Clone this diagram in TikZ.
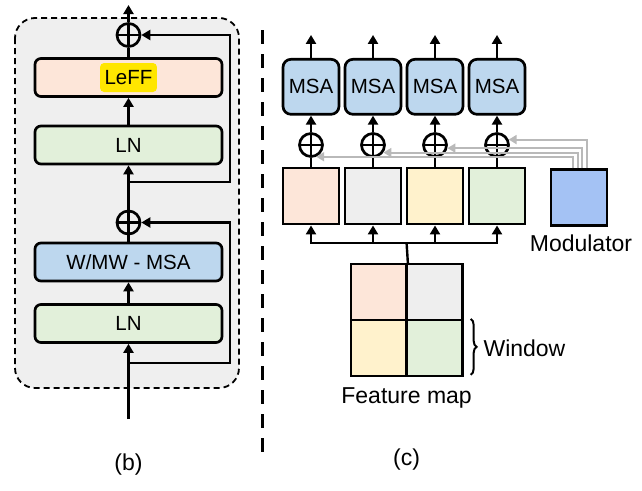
\documentclass[tikz,border=0pt]{standalone}
\usepackage{fontspec}
\setmainfont{Liberation Sans}
\usetikzlibrary{arrows.meta,positioning,decorations.pathreplacing}

\definecolor{rosado}{RGB}{253,230,217}
\definecolor{verdeln}{RGB}{226,240,218}
\definecolor{azulmsa}{RGB}{189,215,238}
\definecolor{grisclaro}{RGB}{238,238,238}
\definecolor{amarillo}{RGB}{255,242,204}
\definecolor{azulmod}{RGB}{164,194,244}
\definecolor{fondo}{RGB}{239,239,239}
\definecolor{resalte}{RGB}{255,230,0}
\definecolor{grislinea}{RGB}{185,185,185}

\begin{document}
\begin{tikzpicture}[x=1pt,y=-1pt,
    caja/.style={draw,line width=2.7pt,rounded corners=6pt,minimum width=187pt,
        minimum height=38pt,inner sep=0pt,font=\fontsize{20.5}{24}\selectfont},
    msabox/.style={draw,line width=2.7pt,rounded corners=8pt,fill=azulmsa,
        minimum width=56pt,minimum height=55pt,inner sep=0pt,font=\fontsize{20.5}{24}\selectfont},
    parche/.style={draw,line width=2.5pt,minimum size=56pt,inner sep=0pt},
    suma/.style={draw,circle,line width=2.7pt,minimum size=23pt,inner sep=0pt,
        path picture={\draw[line width=2.4pt]
            (path picture bounding box.north) -- (path picture bounding box.south)
            (path picture bounding box.west) -- (path picture bounding box.east);}},
    flecha/.style={line width=2.4pt,-{Triangle[length=9pt,width=10pt]}},
    linea/.style={line width=2.4pt},
    gris/.style={line width=2pt,draw=grislinea,-{Triangle[length=8pt,width=9pt]}},
    etiqueta/.style={font=\fontsize{23}{27}\selectfont}]
    \useasboundingbox (0,0) rectangle (642,490);

    % (b) bloque transformer
    \draw[dash pattern=on 6pt off 4pt,line width=1.8pt,fill=fondo,rounded corners=20pt]
        (15,18) rectangle (239,388);
    \node[caja,fill=rosado] (leff) at (128.5,77.5) {};
    \node[fill=resalte,rounded corners=4pt,inner xsep=4.5pt,inner ysep=0pt,
        minimum height=29pt,font=\fontsize{20.5}{24}\selectfont] (leffl) at (leff.center) {LeFF};
    \node[caja,fill=verdeln] (ln2) at (128.5,145) {LN};
    \node[caja,fill=azulmsa] (wmsa) at (128.5,262) {W/MW - MSA};
    \node[caja,fill=verdeln] (ln1) at (128.5,323.5) {LN};
    \node[suma] (add2) at (128.5,35) {};
    \node[suma] (add1) at (128.5,222.5) {};

    \coordinate (entrada) at (128.5,419);
    \coordinate (salida) at (128.5,5);
    \coordinate (r1) at (128.5,362.7);
    \coordinate (c1) at (230,362.7);
    \coordinate (r2) at (128.5,182);
    \coordinate (c2) at (230,182);

    \draw[flecha] (entrada) -- (ln1.south);
    \draw[flecha] (ln1.north) -- (wmsa.south);
    \draw[linea] (wmsa.north) -- (add1.south);
    \draw[flecha] (add1.north) -- (ln2.south);
    \draw[flecha] (ln2.north) -- (leff.south);
    \draw[linea] (leff.north) -- (add2.south);
    \draw[flecha] (add2.north) -- (salida);
    \draw[flecha] (r1) -- (c1) |- (add1.east);
    \draw[flecha] (r2) -- (c2) |- (add2.east);

    \node[etiqueta] (lb) at (128.5,465) {(b)};

    % separador
    \draw[line width=3pt,dash pattern=on 14pt off 10pt] (262,30) -- (262,460);

    % (c) ventanas con modulador
    \node[parche,fill=azulmod] (mod) at (579,197.5) {};
    \node[etiqueta] (modl) at (581,243) {Modulator};

    \foreach \x [count=\i] in {311,373,435,497} {
        \node[msabox] (m\i) at (\x,86.8) {MSA};
        \node[suma] (a\i) at (\x,145) {};
    }
    \node[parche,fill=rosado] (p1) at (311,196.2) {};
    \node[parche,fill=grisclaro] (p2) at (373,196.2) {};
    \node[parche,fill=amarillo] (p3) at (435,196.2) {};
    \node[parche,fill=verdeln] (p4) at (497,196.2) {};

    % lineas grises del modulador
    \draw[gris] (mod.north -| 573,0) |- (a1.-66);
    \draw[gris] (mod.north -| 577.5,0) |- (a2.-36);
    \draw[gris] (mod.north -| 582,0) |- (a3.-14);
    \draw[gris] (mod.north -| 586.5,0) |- (a4.25);

    \foreach \i in {1,...,4} {
        \draw[flecha] (m\i.north) -- ++(0,-23);
        \draw[flecha] (a\i.north) -- (m\i.south);
        \draw[linea] (p\i.north) -- (a\i.south);
    }

    % mapa de caracteristicas
    \node[parche,fill=rosado,minimum size=55.8pt] (f1) at (378.7,292) {};
    \node[parche,fill=grisclaro,minimum size=55.8pt] (f2) at (434.5,292) {};
    \node[parche,fill=amarillo,minimum size=55.8pt] (f3) at (378.7,348) {};
    \node[parche,fill=verdeln,minimum size=55.8pt] (f4) at (434.5,348) {};

    \coordinate (bus) at (406.6,243);
    \draw[linea] (f1.north east) -- (bus);
    \foreach \i in {1,...,4} {
        \draw[flecha] (bus) -| (p\i.south);
    }

    \draw[line width=2pt,decorate,decoration={brace,amplitude=6pt}]
        (f4.north east) ++(7,0) -- ++(0,56);
    \node[etiqueta,anchor=west] (win) at (480,348) {Window};
    \node[etiqueta] (fml) at (406.6,398) {Feature map};
    \node[etiqueta] (lc) at (406.6,460) {(c)};
\end{tikzpicture}
\end{document}
